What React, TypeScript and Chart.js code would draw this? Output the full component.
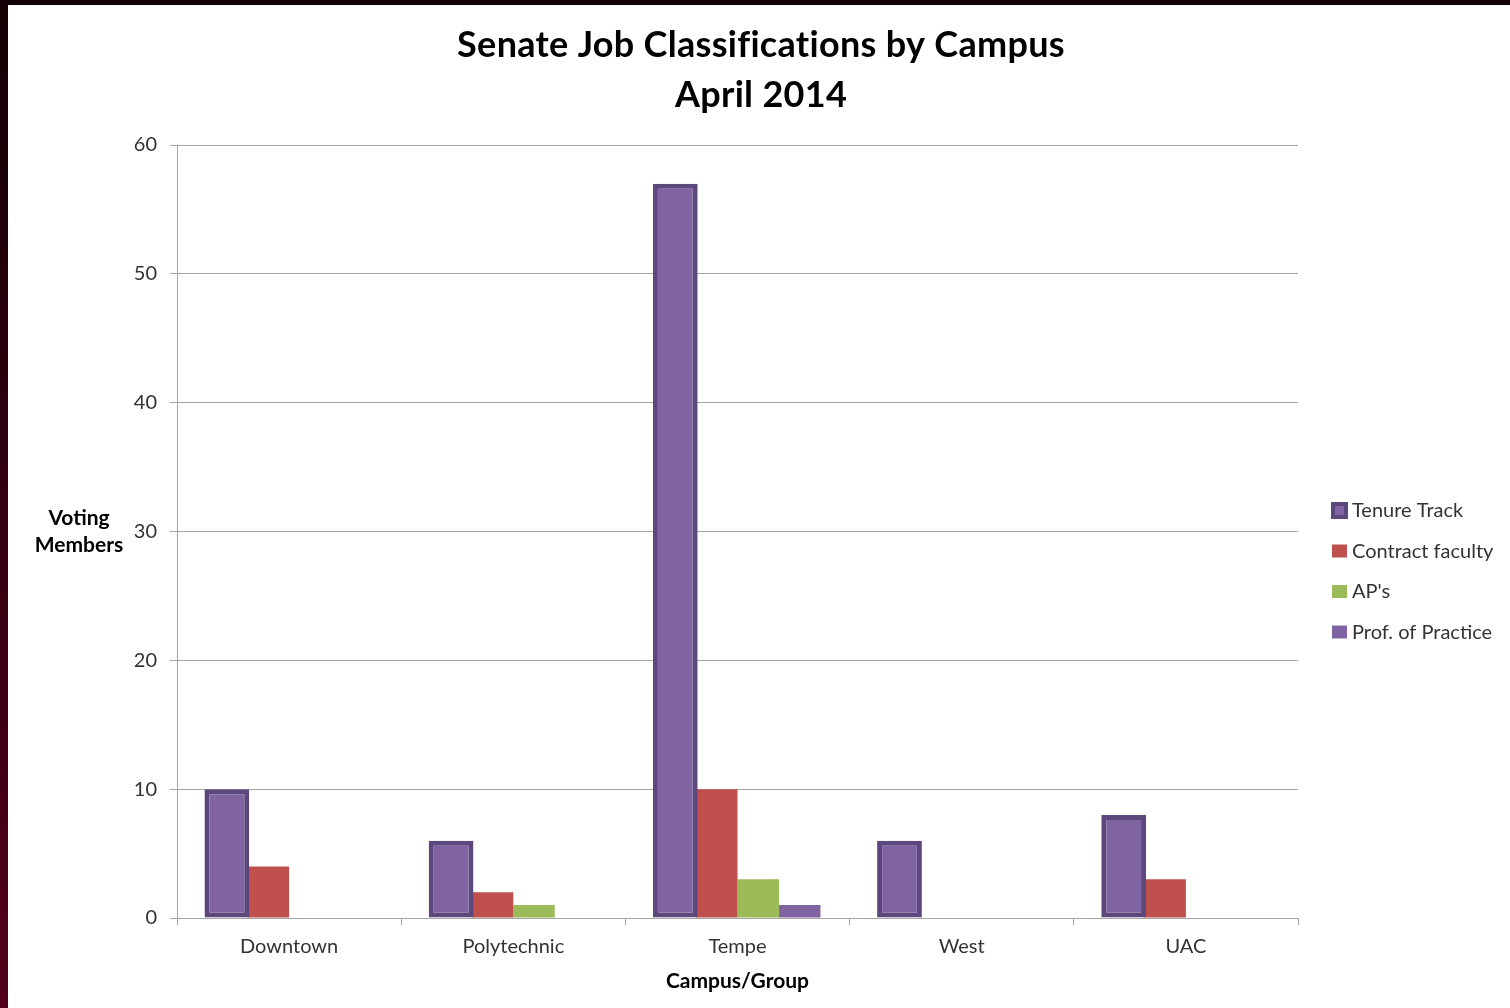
import React, { useEffect, useRef } from "react";
import { Chart, registerables } from "chart.js";

Chart.register(...registerables);

const categories = ["Downtown", "Polytechnic", "Tempe", "West", "UAC"];
const tenureTrack = [10, 6, 57, 6, 8];
const contractFaculty = [4, 2, 10, 0, 3];
const apS = [0, 1, 3, 0, 0];
const profOfPractice = [0, 0, 1, 0, 0];
const seriesNames = ["Tenure Track", "Contract faculty", "AP's", "Prof. of Practice"];
const titleLines = ["Senate Job Classifications by Campus", "April 2014"];
const yAxisTitle = ["Voting", "Members"];
const xAxisTitle = "Campus/Group";
const yMin = 0;
const yMax = 60;
const yStep = 10;

const FONT = "Lato, 'Open Sans', sans-serif";
const PURPLE = "#8064a2";
const PURPLE_DARK = "#5c487c";
const RED = "#c0504d";
const GREEN = "#9bbb59";
const GRID = "#a6a6a6";
const TEXT = "#333333";

const overlayPlugin = {
  id: "overlay",
  afterDraw(chart: any) {
    const { ctx, chartArea } = chart;
    ctx.save();
    ctx.fillStyle = "#000";
    ctx.textAlign = "center";
    ctx.textBaseline = "middle";

    // title
    ctx.font = `bold 36px ${FONT}`;
    (ctx as any).letterSpacing = "0.3px";
    ctx.fillText(titleLines[0], 753, 40);
    ctx.fillText(titleLines[1], 753, 90);
    (ctx as any).letterSpacing = "0px";

    // axis titles
    ctx.font = `bold 21px ${FONT}`;
    const cy = (chartArea.top + chartArea.bottom) / 2;
    ctx.fillText(yAxisTitle[0], 71, cy - 13);
    ctx.fillText(yAxisTitle[1], 71, cy + 14);
    ctx.fillText(xAxisTitle, (chartArea.left + chartArea.right) / 2, chartArea.bottom + 63);

    // legend
    const datasets = chart.data.datasets;
    const bx = chartArea.right + 34;
    let y = chartArea.top + 365;
    ctx.font = `20px ${FONT}`;
    ctx.textAlign = "left";
    datasets.forEach((ds: any) => {
      if (ds.borderWidth && ds.borderWidth > 0) {
        ctx.fillStyle = ds.borderColor;
        ctx.fillRect(bx - 1, y - 8, 17, 17);
        ctx.fillStyle = ds.backgroundColor;
        ctx.fillRect(bx + 3, y - 4, 9, 9);
      } else {
        ctx.fillStyle = ds.backgroundColor;
        ctx.fillRect(bx, y - 6, 15, 13);
      }
      ctx.fillStyle = TEXT;
      ctx.fillText(ds.label, bx + 20, y + 1);
      y += 40.5;
    });
    ctx.restore();
  },
};

export default function App() {
  const ref = useRef<HTMLCanvasElement | null>(null);

  useEffect(() => {
    if (!ref.current) return;
    const chart = new Chart(ref.current, {
      type: "bar",
      data: {
        labels: categories,
        datasets: [
          {
            label: seriesNames[0],
            data: tenureTrack,
            backgroundColor: PURPLE,
            borderColor: PURPLE_DARK,
            borderWidth: 5,
            borderSkipped: false,
            barPercentage: 1.08,
          },
          { label: seriesNames[1], data: contractFaculty, backgroundColor: RED, borderWidth: 0 },
          { label: seriesNames[2], data: apS, backgroundColor: GREEN, borderWidth: 0 },
          { label: seriesNames[3], data: profOfPractice, backgroundColor: PURPLE, borderWidth: 0 },
        ],
      },
      options: {
        animation: false,
        responsive: false,
        devicePixelRatio: 1,
        categoryPercentage: 0.74,
        barPercentage: 1,
        layout: { padding: { left: 109, right: 212, top: 140, bottom: 50 } },
        plugins: {
          legend: { display: false },
          tooltip: { enabled: false },
          title: { display: false },
        },
        scales: {
          x: {
            afterFit: (scale: any) => {
              scale.height = 40;
            },
            grid: {
              offset: true,
              drawOnChartArea: false,
              drawTicks: true,
              tickLength: 7,
              color: GRID,
            },
            border: { color: GRID },
            ticks: { color: TEXT, font: { family: FONT, size: 20 }, padding: 10 },
          },
          y: {
            min: yMin,
            max: yMax,
            afterFit: (scale: any) => {
              scale.width = 60;
            },
            grid: { color: GRID, tickLength: 7, drawTicks: true },
            border: { color: GRID },
            ticks: { stepSize: yStep, color: TEXT, font: { family: FONT, size: 20 }, padding: 13 },
          },
        },
      },
      plugins: [overlayPlugin],
    });
    return () => chart.destroy();
  }, []);

  return (
    <div
      style={{
        position: "absolute",
        left: 0,
        top: 0,
        width: 1510,
        height: 1008,
        background: "linear-gradient(to bottom, #130004, #520019)",
        overflow: "hidden",
      }}
    >
      <div style={{ position: "absolute", left: 8, top: 5, width: 1502, height: 1003, background: "#fff" }}>
        <canvas ref={ref} width={1502} height={1003} style={{ width: 1502, height: 1003, display: "block" }} />
      </div>
    </div>
  );
}
